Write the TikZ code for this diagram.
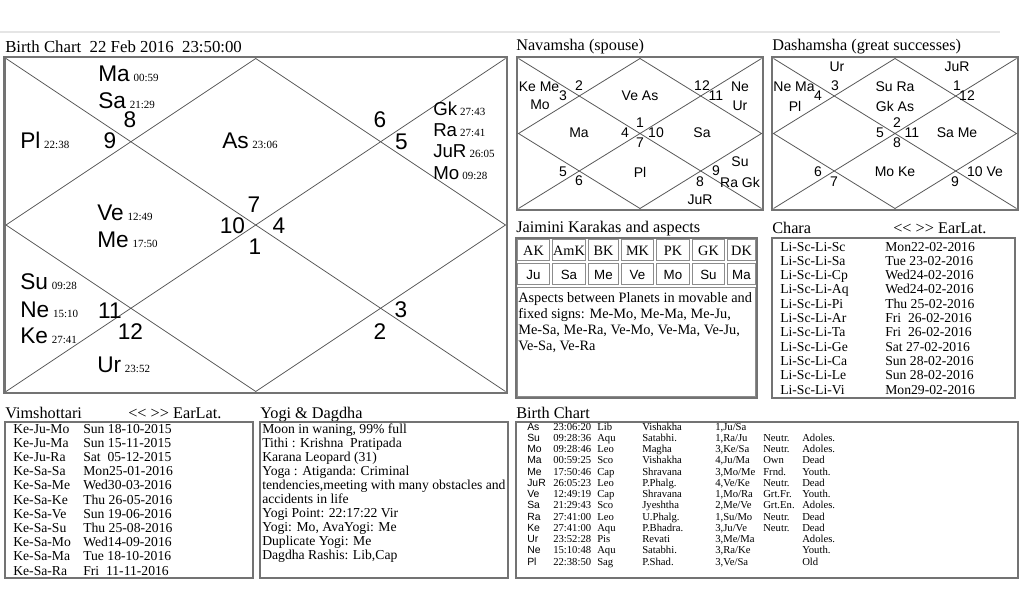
\documentclass[tikz,border=0pt]{standalone}
\usepackage{fontspec}
\setmainfont{Liberation Serif}
\newfontfamily\arialfont{Liberation Sans}
\usetikzlibrary{positioning}

% planet with its degree, as on the rasi chart
\newcommand{\grah}[2]{#1\,{\rmfamily\fontsize{8.25}{9}\selectfont #2}}
% one row of the planet table
\newcommand{\rasirow}[8]{%
  \node[tabsf]  (bc-#1)  at (527,{430+11.27*#1}) {#2};
  \node[tabtxt] (bct-#1) at (553,{430+11.27*#1}) {#3};
  \node[tabtxt] (bcs-#1) at (597,{430+11.27*#1}) {#4};
  \node[tabtxt] (bcn-#1) at (642,{430+11.27*#1}) {#5};
  \node[tabtxt] (bcp-#1) at (715,{430+11.27*#1}) {#6};
  \node[tabtxt] (bcr-#1) at (763,{430+11.27*#1}) {#7};
  \node[tabtxt] (bca-#1) at (802,{430+11.27*#1}) {#8};
}

\tikzset{
  chartframe/.style={draw=black!55, line width=2.2pt},
  boxframe/.style={draw=black!55, line width=1.1pt},
  cellline/.style={draw=black!45, line width=0.8pt},
  houseline/.style={draw=black!65, line width=0.6pt},
  planet/.style={font=\arialfont\fontsize{17}{19}\selectfont, inner sep=0pt, anchor=west},
  smallplanet/.style={font=\arialfont\fontsize{14}{16}\selectfont, inner sep=0pt, anchor=west},
  bhava/.style={font=\arialfont\fontsize{17}{19}\selectfont, inner sep=0pt},
  varga/.style={font=\arialfont\fontsize{10.5}{12}\selectfont, inner sep=0pt},
  heading/.style={font=\fontsize{12.2}{14}\selectfont, inner sep=0pt, anchor=base west},
  listtxt/.style={font=\fontsize{10.25}{12}\selectfont, inner sep=0pt, anchor=base west},
  tabtxt/.style={font=\fontsize{8}{9}\selectfont, inner sep=0pt, anchor=base west},
  tabsf/.style={font=\arialfont\fontsize{7.8}{9}\selectfont, inner sep=0pt, anchor=base west},
  karaka/.style={font=\fontsize{10.7}{12}\selectfont, inner sep=0pt},
  karakagr/.style={font=\arialfont\fontsize{10}{12}\selectfont, inner sep=0pt},
}

\begin{document}
\begin{tikzpicture}[x=0.75pt, y=-0.75pt]
\useasboundingbox (0,0) rectangle (1024,614);
\fill[white] (0,0) rectangle (1024,614);
\draw[black!10, line width=1.5pt] (0,32) -- (1000,32);

% rasi chart
\node[heading, font=\fontsize{12.6}{14}\selectfont] (rasi-title) at (5,52) {Birth Chart\ \ 22 Feb 2016\ \ 23:50:00};
\draw[chartframe] (4.5,57) rectangle (507,393);
\draw[houseline] (6,58.5) -- (505.5,391.5) (6,391.5) -- (505.5,58.5)
  (255.75,58.5) -- (505.5,225) -- (255.75,391.5) -- (6,225) -- cycle;

\node[planet] (ma) at (98,73.5) {\grah{Ma}{00:59}};
\node[planet] (sa) at (98,100.5) {\grah{Sa}{21:29}};
\node[planet] (pl) at (20,140.5) {\grah{Pl}{22:38}};
\node[planet] (as) at (222,140.5) {\grah{As}{23:06}};
\node[smallplanet] (gk) at (433,108.5) {\grah{Gk}{27:43}};
\node[smallplanet] (ra) at (433,130) {\grah{Ra}{27:41}};
\node[smallplanet] (ju) at (433,151.5) {\grah{JuR}{26:05}};
\node[smallplanet] (mo) at (433,173) {\grah{Mo}{09:28}};
\node[planet] (ve) at (97,213) {\grah{Ve}{12:49}};
\node[planet] (me) at (97,240) {\grah{Me}{17:50}};
\node[planet] (su) at (20,282) {\grah{Su}{09:28}};
\node[planet] (ne) at (20,309.5) {\grah{Ne}{15:10}};
\node[planet] (ke) at (20,336) {\grah{Ke}{27:41}};
\node[planet] (ur) at (97,365) {\grah{Ur}{23:52}};

\node[bhava] (h8) at (130,120) {8};
\node[bhava] (h9) at (110,141) {9};
\node[bhava] (h6) at (380,120) {6};
\node[bhava] (h5) at (401.5,141.5) {5};
\node[bhava] (h7) at (254,205) {7};
\node[bhava] (h10) at (232.5,226) {10};
\node[bhava] (h4) at (279,226) {4};
\node[bhava] (h1) at (255,246.5) {1};
\node[bhava] (h11) at (110,311) {11};
\node[bhava] (h12) at (130.5,332) {12};
\node[bhava] (h3) at (401,310) {3};
\node[bhava] (h2) at (380,331.5) {2};

% navamsha
\node[heading] (nav-title) at (516,50) {Navamsha (spouse)};
\draw[chartframe] (517,57) rectangle (763,210);
\draw[houseline] (518.5,58.5) -- (761.5,208.5) (518.5,208.5) -- (761.5,58.5)
  (640,58.5) -- (761.5,133.5) -- (640,208.5) -- (518.5,133.5) -- cycle;
\node[varga] (nv-keme) at (539,87) {Ke Me};
\node[varga] (nv-mo) at (540,105) {Mo};
\node[varga] (nv-3) at (563,96) {3};
\node[varga] (nv-2) at (579,86) {2};
\node[varga] (nv-veas) at (640,96) {Ve As};
\node[varga] (nv-12) at (702,86) {12};
\node[varga] (nv-11) at (716,96) {11};
\node[varga] (nv-ne) at (740,87) {Ne};
\node[varga] (nv-ur) at (740,106) {Ur};
\node[varga] (nv-ma) at (579,133) {Ma};
\node[varga] (nv-4) at (625,133) {4};
\node[varga] (nv-1) at (640,123) {1};
\node[varga] (nv-10) at (656,133) {10};
\node[varga] (nv-7) at (640,143) {7};
\node[varga] (nv-sa) at (702,133) {Sa};
\node[varga] (nv-5) at (563,172) {5};
\node[varga] (nv-6) at (579,181) {6};
\node[varga] (nv-pl) at (640,172) {Pl};
\node[varga] (nv-8) at (700,182) {8};
\node[varga] (nv-9) at (716,171) {9};
\node[varga] (nv-su) at (740,162) {Su};
\node[varga] (nv-ragk) at (740,182) {Ra Gk};
\node[varga] (nv-jur) at (700,200) {JuR};

% dashamsha
\node[heading] (dash-title) at (772,50) {Dashamsha (great successes)};
\draw[chartframe] (772,57) rectangle (1018,210);
\draw[houseline] (773.5,58.5) -- (1016.5,208.5) (773.5,208.5) -- (1016.5,58.5)
  (895,58.5) -- (1016.5,133.5) -- (895,208.5) -- (773.5,133.5) -- cycle;
\node[varga] (dm-ur) at (837,67) {Ur};
\node[varga] (dm-jur) at (957,67) {JuR};
\node[varga] (dm-nema) at (794,87) {Ne Ma};
\node[varga] (dm-pl) at (795,106) {Pl};
\node[varga] (dm-4) at (818,96) {4};
\node[varga] (dm-3) at (835,86) {3};
\node[varga] (dm-sura) at (895,87) {Su Ra};
\node[varga] (dm-gkas) at (895,106) {Gk As};
\node[varga] (dm-1) at (957,86) {1};
\node[varga] (dm-12) at (967,96) {12};
\node[varga] (dm-2) at (897,123) {2};
\node[varga] (dm-5) at (880,133) {5};
\node[varga] (dm-11) at (912,133) {11};
\node[varga] (dm-8) at (897,143) {8};
\node[varga] (dm-same) at (957,133) {Sa Me};
\node[varga] (dm-6) at (818,172) {6};
\node[varga] (dm-7) at (834,182) {7};
\node[varga] (dm-moke) at (895,172) {Mo Ke};
\node[varga] (dm-10ve) at (985,172) {10 Ve};
\node[varga] (dm-9) at (955,182) {9};

% jaimini karakas
\node[heading] (jai-title) at (516,232) {Jaimini Karakas and aspects};
\draw[boxframe] (516,238) rectangle (757,398);
\foreach \xa/\xb in {516/551,551/587,587/620,620/655,655/691,691/726,726/757}{
  \draw[cellline] (\xa+1.5,239.5) rectangle (\xb-1.5,260.5);
  \draw[cellline] (\xa+1.5,263.5) rectangle (\xb-1.5,284.5);
}
\draw[cellline] (517.5,287.5) rectangle (755.5,396.5);
\foreach \kar/\gr/\xc [count=\i] in {AK/Ju/533.5,AmK/Sa/569,BK/Me/603.5,MK/Ve/637.5,PK/Mo/673,GK/Su/708.5,DK/Ma/741.5}{
  \node[karaka] (kar-\i) at (\xc,251) {\kar};
  \node[karakagr] (gr-\i) at (\xc,275) {\gr};
}
\foreach \asp [count=\i from 0] in {{Aspects between Planets in movable and},{fixed signs: Me-Mo, Me-Ma, Me-Ju,},{Me-Sa, Me-Ra, Ve-Mo, Ve-Ma, Ve-Ju,},{Ve-Sa, Ve-Ra}}
  \node[listtxt, font=\fontsize{10.75}{12}\selectfont] (asp-\i) at (518,{302+16*\i}) {\asp};

% chara dasha
\node[heading] (chara-title) at (772,233) {Chara};
\node[heading] (chara-nav) at (893,233) {<{}< >{}> EarLat.};
\draw[boxframe] (772,238) rectangle (1015,398);
\foreach \rasi/\cdate [count=\i from 0] in {Li-Sc-Li-Sc/Mon22-02-2016,Li-Sc-Li-Sa/Tue~23-02-2016,Li-Sc-Li-Cp/Wed24-02-2016,Li-Sc-Li-Aq/Wed24-02-2016,Li-Sc-Li-Pi/Thu~25-02-2016,Li-Sc-Li-Ar/Fri~~26-02-2016,Li-Sc-Li-Ta/Fri~~26-02-2016,Li-Sc-Li-Ge/Sat~27-02-2016,Li-Sc-Li-Ca/Sun~28-02-2016,Li-Sc-Li-Le/Sun~28-02-2016,Li-Sc-Li-Vi/Mon29-02-2016}{
  \node[listtxt] (chara-\i) at (780,{251+14.3*\i}) {\rasi};
  \node[listtxt] (charad-\i) at (885,{251+14.3*\i}) {\cdate};
}

% vimshottari
\node[heading] (vim-title) at (5,418) {Vimshottari};
\node[heading] (vim-nav) at (128,418) {<{}< >{}> EarLat.};
\draw[boxframe] (5,422) rectangle (253,578);
\foreach \dasha/\ddate [count=\i from 0] in {Ke-Ju-Mo/Sun~18-10-2015,Ke-Ju-Ma/Sun~15-11-2015,Ke-Ju-Ra/Sat~~05-12-2015,Ke-Sa-Sa/Mon25-01-2016,Ke-Sa-Me/Wed30-03-2016,Ke-Sa-Ke/Thu~26-05-2016,Ke-Sa-Ve/Sun~19-06-2016,Ke-Sa-Su/Thu~25-08-2016,Ke-Sa-Mo/Wed14-09-2016,Ke-Sa-Ma/Tue~18-10-2016,Ke-Sa-Ra/Fri~~11-11-2016}{
  \node[listtxt] (vim-\i) at (13,{433+14.2*\i}) {\dasha};
  \node[listtxt] (vimd-\i) at (83,{433+14.2*\i}) {\ddate};
}

% yogi and dagdha
\node[heading] (yogi-title) at (260,418) {Yogi \& Dagdha};
\draw[boxframe] (260,422) rectangle (508,578);
\foreach \yline [count=\i from 0] in {{Moon in waning, 99\% full},Tithi : Krishna\ \ Pratipada,Karana Leopard (31),Yoga : Atiganda: Criminal,{tendencies,meeting with many obstacles and},accidents in life,Yogi Point: 22:17:22 Vir,{Yogi: Mo, AvaYogi: Me},Duplicate Yogi: Me,{Dagdha Rashis: Lib,Cap}}
  \node[listtxt] (yogi-\i) at (262,{433+14.1*\i}) {\yline};

% planet table
\node[heading] (bc-title) at (516,418) {Birth Chart};
\draw[boxframe] (516,422) rectangle (1018,578);
\rasirow{0}{As}{23:06:20}{Lib}{Vishakha}{1,Ju/Sa}{}{}
\rasirow{1}{Su}{09:28:36}{Aqu}{Satabhi.}{1,Ra/Ju}{Neutr.}{Adoles.}
\rasirow{2}{Mo}{09:28:46}{Leo}{Magha}{3,Ke/Sa}{Neutr.}{Adoles.}
\rasirow{3}{Ma}{00:59:25}{Sco}{Vishakha}{4,Ju/Ma}{Own}{Dead}
\rasirow{4}{Me}{17:50:46}{Cap}{Shravana}{3,Mo/Me}{Frnd.}{Youth.}
\rasirow{5}{JuR}{26:05:23}{Leo}{P.Phalg.}{4,Ve/Ke}{Neutr.}{Dead}
\rasirow{6}{Ve}{12:49:19}{Cap}{Shravana}{1,Mo/Ra}{Grt.Fr.}{Youth.}
\rasirow{7}{Sa}{21:29:43}{Sco}{Jyeshtha}{2,Me/Ve}{Grt.En.}{Adoles.}
\rasirow{8}{Ra}{27:41:00}{Leo}{U.Phalg.}{1,Su/Mo}{Neutr.}{Dead}
\rasirow{9}{Ke}{27:41:00}{Aqu}{P.Bhadra.}{3,Ju/Ve}{Neutr.}{Dead}
\rasirow{10}{Ur}{23:52:28}{Pis}{Revati}{3,Me/Ma}{}{Adoles.}
\rasirow{11}{Ne}{15:10:48}{Aqu}{Satabhi.}{3,Ra/Ke}{}{Youth.}
\rasirow{12}{Pl}{22:38:50}{Sag}{P.Shad.}{3,Ve/Sa}{}{Old}
\end{tikzpicture}
\end{document}
